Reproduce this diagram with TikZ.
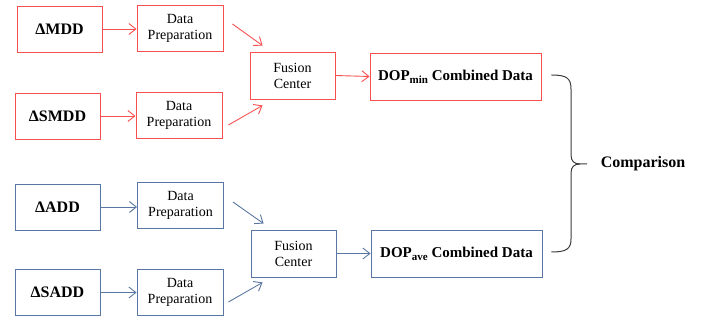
\documentclass[tikz,border=0pt]{standalone}
\usepackage{fontspec}
\setmainfont{Liberation Serif}
\usetikzlibrary{arrows.meta,calc}
\definecolor{rbox}{RGB}{248,80,80}
\definecolor{bbox}{RGB}{90,118,162}
\definecolor{brc}{RGB}{60,60,60}
\tikzset{
  box/.style={draw, line width=0.9pt, fill=white, inner sep=0pt, align=center, font=\fontsize{14}{16}\selectfont},
  srcbox/.style={box, minimum width=85pt, minimum height=46pt, font=\fontsize{16}{18}\selectfont\bfseries},
  prepbox/.style={box, minimum width=86pt, minimum height=46pt},
  fusebox/.style={box, minimum width=85pt, minimum height=47pt},
  outbox/.style={box, minimum width=171pt, minimum height=47pt, font=\fontsize{15}{18}\selectfont\bfseries},
  redc/.style={draw=rbox},
  bluec/.style={draw=bbox},
  conn/.style={line width=0.9pt, -{Straight Barb[length=7pt,width=11pt]}}
}
\newcommand{\mysub}[1]{\raisebox{-0.45ex}{\fontsize{11}{12}\selectfont #1}}
\begin{document}
\begin{tikzpicture}[x=1pt,y=-1pt]
\useasboundingbox (0,0) rectangle (704,320);
% red group
\node[srcbox, redc] (mdd) at (59.5,29) {ΔMDD};
\node[prepbox, redc] (dp1) at (180,28.5) {Data\\Preparation};
\node[srcbox, redc] (smdd) at (57.5,116) {ΔSMDD};
\node[prepbox, redc] (dp2) at (179,115) {Data\\Preparation};
\node[fusebox, redc] (fc1) at (292.5,75.5) {Fusion\\Center};
\node[outbox, redc] (dmin) at (455.5,76.5) {DOP\mysub{min} Combined Data};
% blue group
\node[srcbox, bluec] (add) at (57.5,207) {ΔADD};
\node[prepbox, bluec] (dp3) at (180.5,205.5) {Data\\Preparation};
\node[srcbox, bluec] (sadd) at (57.5,292.5) {ΔSADD};
\node[prepbox, bluec] (dp4) at (180,292) {Data\\Preparation};
\node[fusebox, bluec] (fc2) at (293.5,253.5) {Fusion\\Center};
\node[outbox, bluec] (dave) at (456.5,253.5) {DOP\mysub{ave} Combined Data};
\node[font=\fontsize{16}{18}\selectfont\bfseries] (cmp) at (643,164) {Comparison};
% red connectors
\draw[conn, rbox] (mdd.east) -- (dp1.west |- mdd.east);
\draw[conn, rbox] (smdd.east) -- (dp2.west |- smdd.east);
\draw[conn, rbox] ($(dp1.east)+(9,-4.5)$) -- ($(fc1.north west)+(13,-6)$);
\draw[conn, rbox] ($(dp2.east)+(6,10)$) -- ($(fc1.south west)+(13,6)$);
\draw[conn, rbox] (fc1.east) -- (dmin.west);
% blue connectors
\draw[conn, bbox] (add.east) -- (dp3.west |- add.east);
\draw[conn, bbox] (sadd.east) -- (dp4.west |- sadd.east);
\draw[conn, bbox] ($(dp3.east)+(9,-3.5)$) -- ($(fc2.north west)+(13,-6)$);
\draw[conn, bbox] ($(dp4.east)+(5,10)$) -- ($(fc2.south west)+(12,5)$);
\draw[conn, bbox] (fc2.east) -- (dave.west);
% brace
\coordinate (bt) at ($(dmin.east)+(10,-1.5)$);
\coordinate (bb) at ($(dave.east)+(9,-1.5)$);
\coordinate (tip) at ($(cmp.west)+(-10,0)$);
\draw[brc, line width=1pt] (bt) .. controls ++(15,0) and (571,78) .. (571,89) -- (571,155)
  .. controls (571,161) and (574,164) .. (580,164) -- (tip);
\draw[brc, line width=1pt] (bb) .. controls ++(15,0) and (571,249) .. (571,239) -- (571,173)
  .. controls (571,167) and (574,164) .. (580,164);
\end{tikzpicture}
\end{document}
